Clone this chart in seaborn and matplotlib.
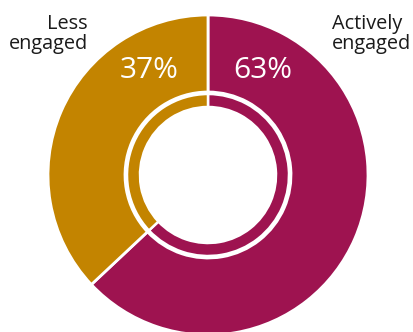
import matplotlib
matplotlib.use("Agg")
import matplotlib.pyplot as plt
import seaborn as sns

# Data
categories = ["Actively\nengaged", "Less\nengaged"]
values = [63, 37]
pct_labels = ["63%", "37%"]
colors = ["#9E1350", "#C38400"]

sns.set_theme(style="white")
plt.rcParams["font.family"] = ["Open Sans", "DejaVu Sans"]

W, H = 414, 332
fig = plt.figure(figsize=(W / 100, H / 100), dpi=100)
ax = fig.add_axes([0, 0, 1, 1])

cx, cy = 208, H - 175
R_out, R_mid_in = 160, 83
R_in_out, R_in_in = 81, 68

# outer ring
ax.pie(values, colors=colors, startangle=90, counterclock=False,
       radius=R_out, center=(cx, cy),
       wedgeprops=dict(width=R_out - R_mid_in, edgecolor="white", linewidth=2.0))
# inner thin ring
ax.pie(values, colors=colors, startangle=90, counterclock=False,
       radius=R_in_out, center=(cx, cy),
       wedgeprops=dict(width=R_in_out - R_in_in, edgecolor="white", linewidth=1.8))

ax.set_xlim(0, W)
ax.set_ylim(0, H)
ax.set_aspect("auto")
ax.axis("off")

# percentage labels
ax.text(263, H - 70, pct_labels[0], color="white", fontsize=21.5,
        ha="center", va="center")
ax.text(149, H - 70, pct_labels[1], color="white", fontsize=21.5,
        ha="center", va="center")

# category labels
ax.text(332, H - 14, categories[0], color="#1a1a1a", fontsize=14.3,
        ha="left", va="top", linespacing=1.02)
ax.text(88, H - 14, categories[1], color="#1a1a1a", fontsize=14.3,
        ha="right", va="top", linespacing=1.02, multialignment="right")

fig.savefig("out.png", dpi=100)
